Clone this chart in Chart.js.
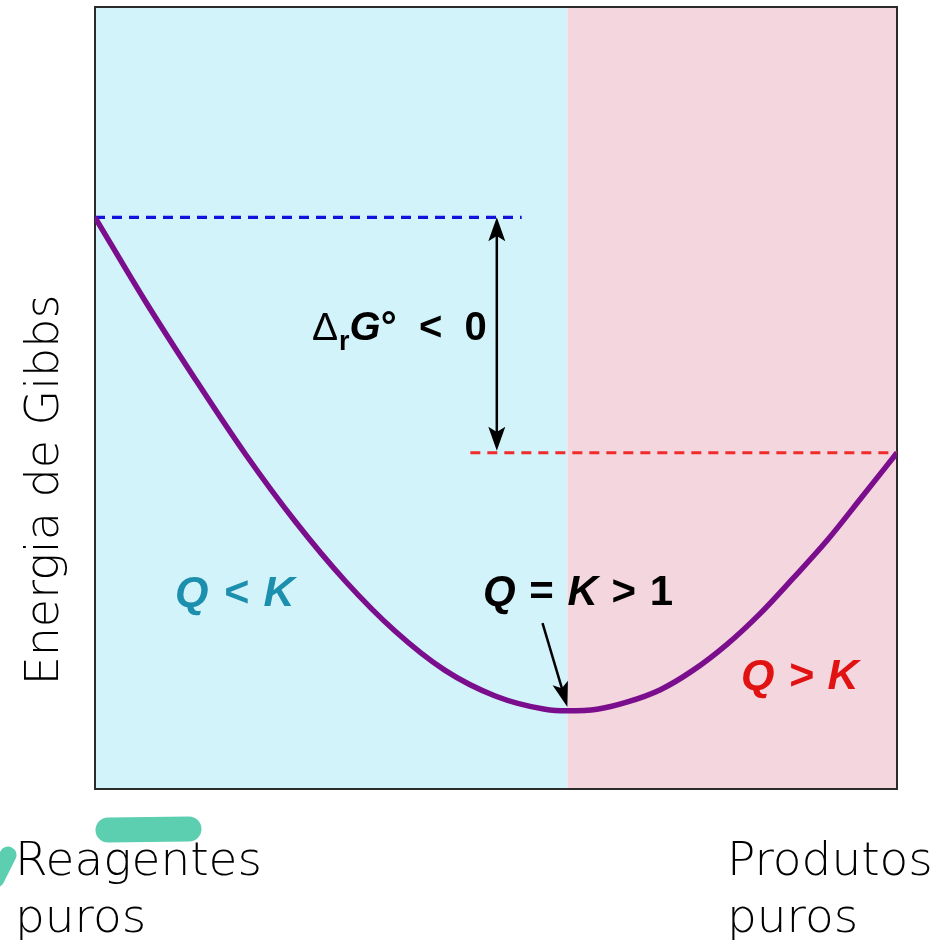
<!DOCTYPE html>
<html lang="pt">
<head>
<meta charset="utf-8">
<title>Energia de Gibbs</title>
<script src="https://cdn.jsdelivr.net/npm/chart.js@4.4.1/dist/chart.umd.min.js"></script>
<style>
  html, body { margin: 0; padding: 0; background: #ffffff; }
  canvas { display: block; }
</style>
</head>
<body>
<canvas id="grafico" width="936" height="940"></canvas>
<script>
// ================= DADOS =================
// extensao da reacao (0 = reagentes puros, 1 = produtos puros)
const extensao = [0, 0.062, 0.125, 0.187, 0.249, 0.312, 0.374, 0.436, 0.499, 0.561, 0.589,
                  0.626, 0.663, 0.705, 0.746, 0.788, 0.829, 0.870, 0.913, 0.956, 1.0];
// energia de Gibbs (unidades arbitrarias)
const energia = [73.1, 62.5, 52.4, 42.9, 34.3, 26.6, 20.2, 15.2, 11.9, 10.2, 10.0,
                 10.2, 11.1, 12.7, 15.2, 18.5, 22.4, 26.9, 31.8, 37.3, 43.0];

const xiEquilibrio = 0.589;
const gReagentes = 73.1;
const gProdutos = 43.0;
const linhaReagentesX = [0, 0.532];
const linhaProdutosX = [0.468, 1];

const tituloEixoY = "Energia de Gibbs";
const rotulosEixoX = [["Reagentes", "puros"], ["Produtos", "puros"]];

const FONTE = "'Liberation Sans', Arial, sans-serif";
const FONTE_EIXO = "'DejaVu Sans', sans-serif";

// ================= UTILITARIOS =================
function escreverPartes(ctx, x, y, partes, cor) {
    ctx.fillStyle = cor;
    ctx.textBaseline = "alphabetic";
    ctx.textAlign = "left";
    partes.forEach(p => {
        ctx.font = p.fonte;
        ctx.fillText(p.texto, x, y + (p.dy || 0));
        x += ctx.measureText(p.texto).width + (p.extra || 0);
    });
}

function cabecaSeta(ctx, xPonta, yPonta, angulo, comp, larg) {
    ctx.save();
    ctx.translate(xPonta, yPonta);
    ctx.rotate(angulo);
    ctx.beginPath();
    ctx.moveTo(0, 0);
    ctx.lineTo(-comp, -larg / 2);
    ctx.lineTo(-comp * 0.78, 0);
    ctx.lineTo(-comp, larg / 2);
    ctx.closePath();
    ctx.fill();
    ctx.restore();
}

// ================= PLUGIN FUNDO =================
const pluginFundo = {
    id: "fundo",
    beforeDatasetsDraw(chart) {
        const { ctx, chartArea: a, scales: { x } } = chart;
        const xEq = x.getPixelForValue(xiEquilibrio);
        ctx.save();
        ctx.fillStyle = "#d3f3fb";
        ctx.fillRect(a.left, a.top, xEq - a.left, a.bottom - a.top);
        ctx.fillStyle = "#f4d6df";
        ctx.fillRect(xEq, a.top, a.right - xEq, a.bottom - a.top);
        ctx.strokeStyle = "#2b2b2b";
        ctx.lineWidth = 2;
        ctx.strokeRect(a.left, a.top, a.right - a.left, a.bottom - a.top);
        ctx.restore();
    }
};

// ================= PLUGIN ANOTACOES =================
const pluginAnotacoes = {
    id: "anotacoes",
    afterDatasetsDraw(chart) {
        const { ctx, chartArea: a, scales: { x, y } } = chart;
        ctx.save();

        // seta dupla (Delta_r G)
        const xs = x.getPixelForValue(0.501);
        const yTopo = y.getPixelForValue(gReagentes);
        const yBase = y.getPixelForValue(gProdutos) - 2;
        ctx.strokeStyle = "#000";
        ctx.fillStyle = "#000";
        ctx.lineWidth = 2.5;
        ctx.beginPath();
        ctx.moveTo(xs, yTopo + 12);
        ctx.lineTo(xs, yBase - 12);
        ctx.stroke();
        cabecaSeta(ctx, xs, yTopo, -Math.PI / 2, 24, 17);
        cabecaSeta(ctx, xs, yBase, Math.PI / 2, 24, 17);

        // seta para o minimo
        const x1 = x.getPixelForValue(0.558), y1 = y.getPixelForValue(21.2);
        const x2 = x.getPixelForValue(xiEquilibrio), y2 = y.getPixelForValue(10.5);
        const ang = Math.atan2(y2 - y1, x2 - x1);
        ctx.beginPath();
        ctx.moveTo(x1, y1);
        ctx.lineTo(x2 - Math.cos(ang) * 14, y2 - Math.sin(ang) * 14);
        ctx.stroke();
        cabecaSeta(ctx, x2, y2, ang, 25, 16);

        // textos
        escreverPartes(ctx, x.getPixelForValue(0.2706), y.getPixelForValue(57.4), [
            { texto: "\u0394", fonte: "39px " + FONTE, extra: 1 },
            { texto: "r", fonte: "bold 27px " + FONTE, dy: 10 },
            { texto: "G", fonte: "bold italic 40px " + FONTE },
            { texto: "\u00b0", fonte: "bold 40px " + FONTE },
            { texto: "  <  0", fonte: "bold 40px " + FONTE }
        ], "#000");

        escreverPartes(ctx, x.getPixelForValue(0.0998), y.getPixelForValue(23.4), [
            { texto: "Q", fonte: "bold italic 43px " + FONTE, extra: 3 },
            { texto: " < ", fonte: "bold italic 43px " + FONTE, extra: 3 },
            { texto: "K", fonte: "bold italic 43px " + FONTE }
        ], "#1b8fad");

        escreverPartes(ctx, x.getPixelForValue(0.4838), y.getPixelForValue(23.5), [
            { texto: "Q", fonte: "bold italic 42px " + FONTE, extra: 2 },
            { texto: " = ", fonte: "bold 42px " + FONTE, extra: 2 },
            { texto: "K", fonte: "bold italic 42px " + FONTE, extra: 2 },
            { texto: " > ", fonte: "bold 42px " + FONTE, extra: 2 },
            { texto: "1", fonte: "bold 42px " + FONTE }
        ], "#000");

        escreverPartes(ctx, x.getPixelForValue(0.8055), y.getPixelForValue(12.8), [
            { texto: "Q", fonte: "bold italic 43px " + FONTE, extra: 2 },
            { texto: " > ", fonte: "bold italic 43px " + FONTE, extra: 2 },
            { texto: "K", fonte: "bold italic 43px " + FONTE }
        ], "#e01212");

        // marca-texto verde
        ctx.strokeStyle = "#5dcfb1";
        ctx.lineCap = "round";
        ctx.lineWidth = 25;
        ctx.beginPath();
        ctx.moveTo(a.left + 13, a.bottom + 41);
        ctx.lineTo(a.left + 94, a.bottom + 40);
        ctx.stroke();
        ctx.lineWidth = 17;
        ctx.beginPath();
        ctx.moveTo(-4, a.bottom + 90);
        ctx.lineTo(8, a.bottom + 66);
        ctx.stroke();

        // titulo do eixo y
        ctx.fillStyle = "#000";
        ctx.font = "300 46px " + FONTE_EIXO;
        ctx.save();
        ctx.translate(a.left - 37, (a.top + a.bottom) / 2 + 92);
        ctx.rotate(-Math.PI / 2);
        ctx.textAlign = "center";
        ctx.textBaseline = "alphabetic";
        ctx.fillText(tituloEixoY, 0, 0);
        ctx.restore();

        // rotulos do eixo x
        ctx.font = "300 47px " + FONTE_EIXO;
        ctx.textAlign = "left";
        ctx.textBaseline = "alphabetic";
        const posX = [x.getPixelForValue(0) - 80, x.getPixelForValue(1) - 170];
        rotulosEixoX.forEach((linhas, i) => {
            linhas.forEach((t, j) => {
                ctx.fillText(t, posX[i], a.bottom + 86 + j * 57);
            });
        });

        ctx.restore();
    }
};

// ================= GRAFICO =================
const pontosCurva = extensao.map((v, i) => ({ x: v, y: energia[i] }));

new Chart(document.getElementById("grafico"), {
    type: "line",
    data: {
        datasets: [
            {
                label: "G",
                data: pontosCurva,
                borderColor: "#7a0e8c",
                borderWidth: 5.5,
                pointRadius: 0,
                cubicInterpolationMode: "monotone",
                order: 0
            },
            {
                label: "reagentes",
                data: linhaReagentesX.map(v => ({ x: v, y: gReagentes })),
                borderColor: "#1212dc",
                borderWidth: 3.2,
                borderDash: [10, 7],
                pointRadius: 0,
                order: 1
            },
            {
                label: "produtos",
                data: linhaProdutosX.map(v => ({ x: v, y: gProdutos })),
                borderColor: "#ef2b2b",
                borderWidth: 2.8,
                borderDash: [10, 7],
                pointRadius: 0,
                order: 1
            }
        ]
    },
    options: {
        responsive: false,
        animation: false,
        devicePixelRatio: 1,
        layout: { padding: { left: 95, right: 39, top: 7, bottom: 151 } },
        plugins: { legend: { display: false }, tooltip: { enabled: false } },
        scales: {
            x: { type: "linear", min: 0, max: 1, display: false },
            y: { type: "linear", min: 0, max: 100, display: false }
        }
    },
    plugins: [pluginFundo, pluginAnotacoes]
});
</script>
</body>
</html>
